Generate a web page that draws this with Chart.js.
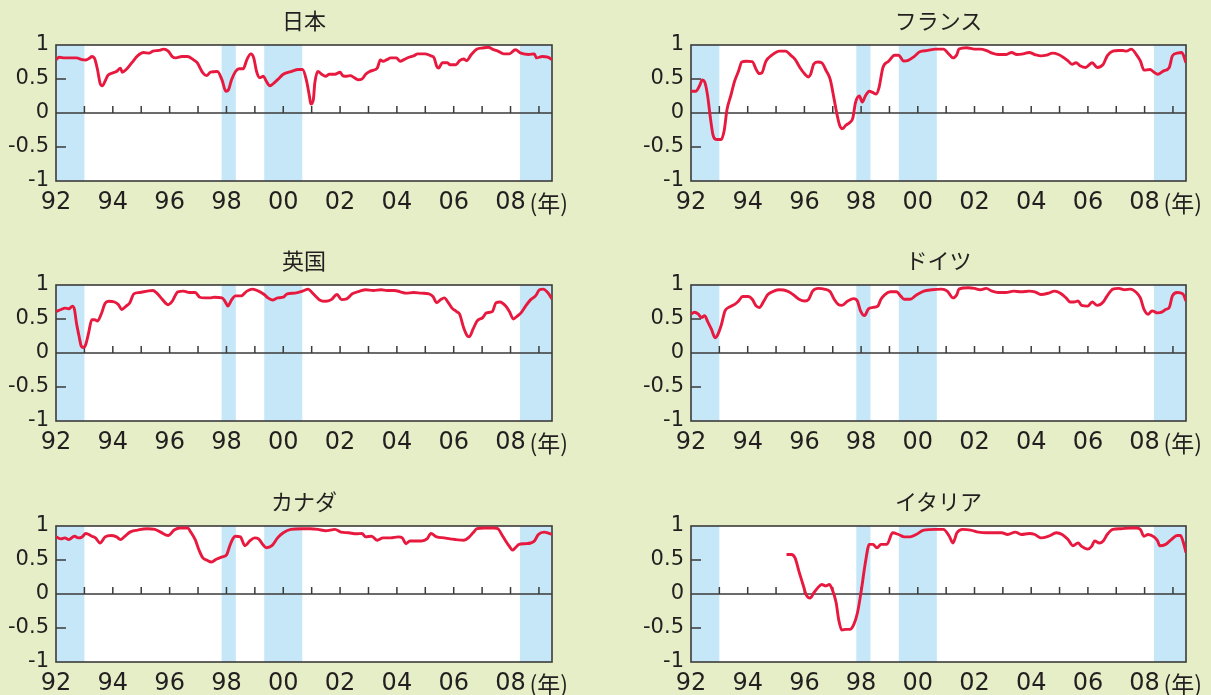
<!DOCTYPE html>
<html lang="ja">
<head>
<meta charset="utf-8">
<script src="https://cdn.jsdelivr.net/npm/chart.js@4.4.1/dist/chart.umd.min.js"></script>
<style>
  html, body { margin: 0; padding: 0; }
  body { width: 1211px; height: 695px; background: #e5eec6; position: relative; overflow: hidden; }
  canvas { position: absolute; }
  .ttl { position: absolute; font-family: "Noto Sans CJK JP", sans-serif; font-size: 22px; color: #231f20;
         line-height: 1; white-space: nowrap; transform: translate(-50%, -50%); }
  .unit { position: absolute; font-family: "Noto Sans CJK JP", sans-serif; font-size: 23px; color: #231f20;
          line-height: 1; white-space: nowrap; transform: translateY(-50%); }
</style>
</head>
<body>
<script>
// ---- axis ranges and tick labels ----
const xFirst = 1992;
const xLast = 2009.46;
const xLabelYears = [1992, 1994, 1996, 1998, 2000, 2002, 2004, 2006, 2008];
const xMinorYears = [1993, 1994, 1995, 1996, 1997, 1998, 1999, 2000, 2001, 2002, 2003, 2004, 2005, 2006, 2007, 2008, 2009];
const yTickValues = [-1, -0.5, 0, 0.5, 1];
const yMinorValues = [-0.5, 0.5];
const unitLabel = '(年)';

// ---- shaded periods ----
const bandStarts = [1992.0, 1997.83, 1999.33, 2008.33];
const bandEnds   = [1993.0, 1998.33, 2000.67, 2009.46];

// ---- 日本 ----
const japanYears = [1992.00,1992.11,1992.31,1992.72,1992.92,1993.05,1993.19,1993.26,1993.35,1993.46,1993.55,1993.63,1993.73,1993.82,
  1994.00,1994.13,1994.27,1994.33,1994.47,1994.67,1994.87,1995.08,1995.28,1995.41,1995.62,1995.79,1995.95,1996.09,1996.22,1996.43,
  1996.63,1996.83,1996.97,1997.17,1997.30,1997.44,1997.68,1997.84,1997.98,1998.07,1998.18,1998.32,1998.45,1998.59,1998.72,1998.86,
  1998.96,1999.06,1999.17,1999.30,1999.40,1999.53,1999.67,1999.80,2000.00,2000.27,2000.54,2000.68,2000.81,2000.92,2000.97,2001.06,
  2001.11,2001.22,2001.35,2001.49,2001.62,2001.82,2002.00,2002.09,2002.23,2002.36,2002.50,2002.63,2002.77,2002.90,2003.04,2003.24,
  2003.31,2003.42,2003.51,2003.65,2003.78,2003.98,2004.12,2004.25,2004.43,2004.59,2004.73,2005.00,2005.20,2005.31,2005.40,2005.47,
  2005.60,2005.78,2005.87,2006.08,2006.21,2006.35,2006.45,2006.62,2006.82,2007.02,2007.22,2007.36,2007.56,2007.76,2007.96,2008.17,
  2008.37,2008.64,2008.84,2008.91,2009.11,2009.31,2009.46];
const japanValues = [0.785,0.82,0.81,0.81,0.785,0.78,0.81,0.83,0.81,0.64,0.44,0.40,0.47,0.55,
  0.59,0.61,0.66,0.60,0.64,0.74,0.84,0.89,0.88,0.91,0.92,0.94,0.91,0.83,0.81,0.83,
  0.83,0.785,0.74,0.59,0.55,0.60,0.61,0.49,0.32,0.34,0.49,0.61,0.65,0.65,0.785,0.87,
  0.81,0.61,0.52,0.54,0.47,0.40,0.44,0.49,0.57,0.61,0.64,0.64,0.49,0.25,0.13,0.20,
  0.44,0.61,0.57,0.54,0.57,0.57,0.60,0.55,0.54,0.55,0.52,0.49,0.50,0.57,0.61,0.64,
  0.66,0.78,0.76,0.785,0.81,0.81,0.76,0.785,0.82,0.84,0.87,0.87,0.84,0.81,0.69,0.66,
  0.74,0.74,0.71,0.71,0.77,0.795,0.77,0.86,0.94,0.956,0.966,0.94,0.91,0.87,0.87,0.93,
  0.88,0.86,0.87,0.81,0.83,0.82,0.785];

// ---- フランス ----
const franceYears = [1992.00,1992.17,1992.30,1992.40,1992.48,1992.58,1992.69,1992.78,1992.89,1993.06,1993.17,1993.27,1993.40,1993.54,
  1993.68,1993.79,1993.95,1994.16,1994.30,1994.41,1994.50,1994.64,1994.85,1995.12,1995.33,1995.54,1995.67,1995.84,1996.02,1996.15,
  1996.22,1996.33,1996.47,1996.61,1996.77,1996.91,1997.05,1997.16,1997.25,1997.35,1997.46,1997.60,1997.71,1997.80,1997.94,1998.04,
  1998.15,1998.29,1998.42,1998.53,1998.63,1998.77,1998.97,1999.18,1999.32,1999.50,1999.66,1999.87,2000.07,2000.35,2000.62,2000.90,
  2001.11,2001.24,2001.38,2001.45,2001.72,2002.00,2002.21,2002.41,2002.62,2002.83,2003.10,2003.31,2003.49,2003.72,2003.93,2004.13,
  2004.34,2004.54,2004.75,2004.96,2005.16,2005.30,2005.44,2005.58,2005.74,2005.92,2006.15,2006.33,2006.54,2006.68,2006.88,2007.09,
  2007.23,2007.36,2007.53,2007.71,2007.85,2007.98,2008.19,2008.33,2008.46,2008.67,2008.87,2008.98,2009.15,2009.31,2009.46];
const franceValues = [0.32,0.32,0.40,0.485,0.46,0.27,-0.09,-0.33,-0.39,-0.39,-0.26,0.05,0.25,0.47,
  0.62,0.75,0.76,0.755,0.64,0.58,0.59,0.76,0.85,0.91,0.91,0.84,0.79,0.67,0.57,0.53,
  0.57,0.72,0.75,0.74,0.62,0.495,0.20,-0.04,-0.19,-0.23,-0.18,-0.14,-0.07,0.15,0.25,0.16,
  0.25,0.32,0.30,0.28,0.37,0.67,0.76,0.85,0.85,0.765,0.775,0.83,0.90,0.92,0.94,0.94,
  0.86,0.81,0.86,0.94,0.96,0.94,0.94,0.92,0.88,0.86,0.86,0.89,0.86,0.87,0.89,0.86,
  0.84,0.85,0.88,0.86,0.81,0.765,0.715,0.74,0.69,0.67,0.74,0.67,0.715,0.84,0.91,0.92,
  0.92,0.91,0.94,0.86,0.765,0.63,0.64,0.60,0.57,0.62,0.67,0.84,0.88,0.89,0.74];

// ---- 英国 ----
const ukYears = [1992.00,1992.18,1992.31,1992.45,1992.58,1992.65,1992.72,1992.81,1992.89,1992.96,1993.05,1993.15,1993.26,1993.36,
  1993.46,1993.59,1993.73,1993.86,1994.06,1994.20,1994.31,1994.47,1994.60,1994.74,1994.94,1995.21,1995.41,1995.55,1995.75,1995.95,
  1996.09,1996.29,1996.49,1996.70,1996.90,1997.06,1997.24,1997.41,1997.57,1997.84,1997.95,1998.05,1998.18,1998.32,1998.52,1998.72,
  1998.92,1999.13,1999.33,1999.46,1999.62,1999.80,2000.00,2000.14,2000.41,2000.68,2000.88,2001.01,2001.15,2001.28,2001.49,2001.69,
  2001.89,2002.05,2002.23,2002.43,2002.70,2002.90,2003.17,2003.44,2003.65,2003.92,2004.12,2004.32,2004.59,2004.86,2005.13,2005.27,
  2005.40,2005.54,2005.67,2005.81,2005.94,2006.10,2006.21,2006.35,2006.48,2006.55,2006.68,2006.82,2007.02,2007.15,2007.36,2007.49,
  2007.63,2007.83,2007.96,2008.10,2008.23,2008.37,2008.53,2008.71,2008.88,2009.02,2009.15,2009.31,2009.46];
const ukValues = [0.61,0.64,0.66,0.65,0.69,0.64,0.44,0.25,0.10,0.08,0.13,0.30,0.49,0.49,
  0.47,0.57,0.73,0.76,0.75,0.71,0.64,0.69,0.74,0.87,0.89,0.91,0.92,0.88,0.785,0.71,
  0.76,0.90,0.91,0.89,0.89,0.82,0.81,0.81,0.82,0.81,0.76,0.69,0.78,0.84,0.84,0.91,
  0.94,0.91,0.86,0.81,0.78,0.81,0.82,0.87,0.88,0.91,0.94,0.89,0.83,0.78,0.76,0.785,
  0.86,0.785,0.795,0.87,0.91,0.93,0.92,0.93,0.92,0.92,0.90,0.88,0.89,0.88,0.87,0.83,
  0.74,0.785,0.81,0.74,0.66,0.61,0.57,0.37,0.25,0.24,0.35,0.47,0.52,0.59,0.61,0.74,
  0.75,0.69,0.61,0.50,0.54,0.59,0.69,0.785,0.84,0.93,0.94,0.89,0.795];

// ---- ドイツ ----
const germanyYears = [1992.00,1992.12,1992.26,1992.37,1992.48,1992.58,1992.72,1992.85,1992.92,1993.06,1993.20,1993.33,1993.54,1993.68,
  1993.82,1994.02,1994.16,1994.30,1994.41,1994.57,1994.71,1994.92,1995.12,1995.40,1995.60,1995.81,1996.02,1996.15,1996.29,1996.50,
  1996.70,1996.91,1997.05,1997.19,1997.32,1997.53,1997.74,1997.87,1997.98,1998.12,1998.26,1998.42,1998.59,1998.70,1998.84,1999.04,
  1999.25,1999.39,1999.52,1999.73,1999.94,2000.21,2000.49,2000.83,2001.04,2001.24,2001.38,2001.45,2001.79,2002.00,2002.21,2002.41,
  2002.62,2002.83,2003.10,2003.38,2003.65,2003.93,2004.13,2004.34,2004.61,2004.82,2005.03,2005.23,2005.37,2005.51,2005.65,2005.78,
  2005.99,2006.15,2006.33,2006.54,2006.68,2006.88,2007.09,2007.30,2007.50,2007.71,2007.85,2007.98,2008.12,2008.26,2008.46,2008.60,
  2008.74,2008.87,2008.98,2009.15,2009.35,2009.46];
const germanyValues = [0.57,0.60,0.57,0.52,0.55,0.47,0.35,0.225,0.25,0.40,0.62,0.67,0.715,0.765,
  0.83,0.83,0.79,0.69,0.67,0.765,0.86,0.91,0.93,0.91,0.86,0.79,0.765,0.79,0.91,0.95,
  0.94,0.90,0.79,0.715,0.70,0.765,0.80,0.765,0.62,0.55,0.65,0.67,0.69,0.79,0.86,0.90,
  0.90,0.84,0.79,0.79,0.85,0.91,0.93,0.94,0.91,0.81,0.86,0.94,0.96,0.95,0.93,0.95,
  0.91,0.89,0.89,0.91,0.90,0.91,0.90,0.86,0.88,0.91,0.88,0.81,0.75,0.75,0.765,0.70,
  0.69,0.75,0.70,0.75,0.84,0.94,0.95,0.93,0.94,0.89,0.81,0.64,0.57,0.62,0.59,0.60,
  0.64,0.67,0.84,0.89,0.87,0.765];

// ---- カナダ ----
const canadaYears = [1992.00,1992.18,1992.31,1992.45,1992.65,1992.78,1992.92,1993.05,1993.26,1993.39,1993.55,1993.73,1993.93,1994.13,
  1994.27,1994.40,1994.60,1994.87,1995.21,1995.48,1995.68,1995.95,1996.16,1996.36,1996.63,1996.76,1996.90,1997.03,1997.17,1997.30,
  1997.47,1997.64,1997.84,1998.01,1998.11,1998.22,1998.32,1998.49,1998.65,1998.82,1998.99,1999.13,1999.26,1999.40,1999.60,1999.80,
  2000.00,2000.27,2000.68,2000.95,2001.22,2001.49,2001.82,2002.03,2002.30,2002.57,2002.77,2002.90,2003.11,2003.31,2003.51,2003.78,
  2004.05,2004.19,2004.32,2004.46,2004.66,2004.86,2005.06,2005.20,2005.40,2005.67,2005.87,2006.08,2006.35,2006.55,2006.68,2006.82,
  2007.09,2007.42,2007.56,2007.69,2007.83,2007.96,2008.07,2008.17,2008.30,2008.50,2008.71,2008.84,2008.98,2009.18,2009.31,2009.46];
const canadaValues = [0.84,0.81,0.825,0.80,0.85,0.825,0.84,0.89,0.85,0.825,0.75,0.84,0.86,0.84,
  0.80,0.84,0.91,0.94,0.96,0.95,0.91,0.86,0.94,0.97,0.97,0.90,0.80,0.65,0.53,0.50,
  0.47,0.51,0.545,0.58,0.70,0.81,0.85,0.84,0.71,0.78,0.825,0.81,0.74,0.68,0.71,0.825,
  0.90,0.95,0.96,0.96,0.95,0.93,0.95,0.91,0.90,0.885,0.89,0.84,0.85,0.79,0.825,0.825,
  0.84,0.825,0.74,0.78,0.78,0.78,0.81,0.89,0.84,0.825,0.81,0.80,0.79,0.84,0.90,0.96,
  0.97,0.97,0.96,0.875,0.78,0.70,0.645,0.68,0.73,0.74,0.75,0.78,0.875,0.91,0.90,0.875];

// ---- イタリア ----
const italyYears = [1995.37,1995.54,1995.67,1995.81,1995.95,1996.06,1996.20,1996.33,1996.47,1996.61,1996.75,1996.88,1996.98,1997.12,
  1997.21,1997.32,1997.46,1997.60,1997.74,1997.87,1998.01,1998.15,1998.29,1998.42,1998.56,1998.70,1998.91,1999.11,1999.32,1999.52,
  1999.73,1999.94,2000.21,2000.62,2000.90,2001.11,2001.24,2001.38,2001.59,2001.86,2002.14,2002.41,2002.69,2002.96,2003.17,2003.44,
  2003.65,2003.93,2004.13,2004.34,2004.61,2004.89,2005.09,2005.30,2005.47,2005.65,2005.78,2005.99,2006.13,2006.24,2006.40,2006.54,
  2006.68,2006.88,2007.16,2007.50,2007.71,2007.85,2007.98,2008.12,2008.33,2008.46,2008.53,2008.74,2008.94,2009.15,2009.26,2009.35,
  2009.46];
const italyValues = [0.58,0.58,0.53,0.33,0.14,-0.01,-0.06,0.015,0.09,0.14,0.12,0.14,0.07,-0.13,
  -0.38,-0.53,-0.52,-0.52,-0.45,-0.28,0.06,0.46,0.73,0.73,0.68,0.73,0.73,0.90,0.875,0.84,
  0.84,0.875,0.94,0.95,0.95,0.85,0.75,0.90,0.95,0.94,0.91,0.90,0.90,0.90,0.875,0.91,
  0.875,0.89,0.875,0.825,0.85,0.90,0.875,0.80,0.71,0.75,0.70,0.66,0.70,0.78,0.75,0.78,
  0.875,0.95,0.96,0.97,0.97,0.95,0.85,0.875,0.84,0.78,0.71,0.73,0.80,0.86,0.86,0.78,
  0.61];

// ---- panel layout ----
const colLeft = [0, 605];
const colWidth = [600, 606];
const yAxisWidth = [56, 86];
const padRight = [48, 25];
const rowTop = [0, 240, 481];
const rowHeight = [240, 240, 214];
const plotTop = 45;
const plotHeight = 136;
const xAxisHeight = 30;

const panels = [
  { title: '日本',     years: japanYears,   values: japanValues,   col: 0, row: 0 },
  { title: 'フランス', years: franceYears,  values: franceValues,  col: 1, row: 0 },
  { title: '英国',     years: ukYears,      values: ukValues,      col: 0, row: 1 },
  { title: 'ドイツ',   years: germanyYears, values: germanyValues, col: 1, row: 1 },
  { title: 'カナダ',   years: canadaYears,  values: canadaValues,  col: 0, row: 2 },
  { title: 'イタリア', years: italyYears,   values: italyValues,   col: 1, row: 2 }
];

const INK = '#231f20';
const FRAME = '#3b3b3b';
const BAND = '#c5e7f7';
const LINE = '#e8193f';

// plot background, shaded periods, zero line, tick marks and frame
const panelDecor = {
  id: 'panelDecor',
  beforeDatasetsDraw(chart) {
    const { ctx, chartArea: a, scales: { x, y } } = chart;
    ctx.save();
    ctx.fillStyle = '#ffffff';
    ctx.fillRect(a.left, a.top, a.right - a.left, a.bottom - a.top);
    ctx.fillStyle = BAND;
    bandStarts.forEach((s, i) => {
      const x0 = Math.max(a.left, x.getPixelForValue(s));
      const x1 = Math.min(a.right, x.getPixelForValue(bandEnds[i]));
      ctx.fillRect(x0, a.top, x1 - x0, a.bottom - a.top);
    });
    ctx.strokeStyle = FRAME;
    ctx.lineWidth = 1.5;
    const y0 = y.getPixelForValue(0);
    ctx.beginPath();
    ctx.moveTo(a.left, y0);
    ctx.lineTo(a.right, y0);
    xMinorYears.forEach(v => {
      const px = x.getPixelForValue(v);
      ctx.moveTo(px, y0);
      ctx.lineTo(px, y0 - 7);
    });
    yMinorValues.forEach(v => {
      const py = y.getPixelForValue(v);
      ctx.moveTo(a.left, py);
      ctx.lineTo(a.left + 10, py);
    });
    ctx.stroke();
    ctx.lineWidth = 1.6;
    ctx.strokeRect(a.left, a.top, a.right - a.left, a.bottom - a.top);
    ctx.restore();
  }
};

panels.forEach(p => {
  const cv = document.createElement('canvas');
  const w = colWidth[p.col], h = rowHeight[p.row];
  cv.width = w; cv.height = h;
  cv.style.left = colLeft[p.col] + 'px';
  cv.style.top = rowTop[p.row] + 'px';
  cv.style.width = w + 'px';
  cv.style.height = h + 'px';
  document.body.appendChild(cv);

  const chart = new Chart(cv, {
    type: 'line',
    data: {
      datasets: [{
        data: p.years.map((yr, i) => ({ x: yr, y: p.values[i] })),
        borderColor: LINE,
        borderWidth: 2.9,
        pointRadius: 0,
        cubicInterpolationMode: 'monotone',
        fill: false
      }]
    },
    options: {
      responsive: false,
      animation: false,
      devicePixelRatio: 1,
      layout: { padding: { top: plotTop, left: 0, right: padRight[p.col],
                           bottom: h - plotTop - plotHeight - xAxisHeight } },
      plugins: { legend: { display: false }, tooltip: { enabled: false }, title: { display: false } },
      scales: {
        x: {
          type: 'linear', min: xFirst, max: xLast,
          afterBuildTicks: s => { s.ticks = xLabelYears.map(v => ({ value: v })); },
          afterFit: s => { s.height = xAxisHeight; },
          grid: { display: false, drawTicks: false },
          border: { display: false },
          ticks: {
            autoSkip: false, maxRotation: 0, padding: 7, color: INK,
            font: { family: 'DejaVu Sans', size: 24 },
            callback: v => String(v % 100).padStart(2, '0')
          }
        },
        y: {
          min: -1, max: 1,
          afterBuildTicks: s => { s.ticks = yTickValues.map(v => ({ value: v })); },
          afterFit: s => { s.width = yAxisWidth[p.col]; },
          grid: { display: false, drawTicks: false },
          border: { display: false },
          ticks: {
            padding: 7, color: INK,
            font: { family: 'DejaVu Sans', size: 21 },
            callback: v => String(v)
          }
        }
      }
    },
    plugins: [panelDecor]
  });

  const a = chart.chartArea;
  const left = colLeft[p.col], top = rowTop[p.row];

  const t = document.createElement('div');
  t.className = 'ttl';
  t.textContent = p.title;
  t.style.left = (left + (a.left + a.right) / 2) + 'px';
  t.style.top = (top + a.top - 26) + 'px';
  document.body.appendChild(t);

  const u = document.createElement('div');
  u.className = 'unit';
  u.textContent = unitLabel;
  u.style.left = (left + chart.scales.x.getPixelForValue(2008) + 19) + 'px';
  u.style.top = (top + a.bottom + 21) + 'px';
  document.body.appendChild(u);
});
</script>
</body>
</html>
